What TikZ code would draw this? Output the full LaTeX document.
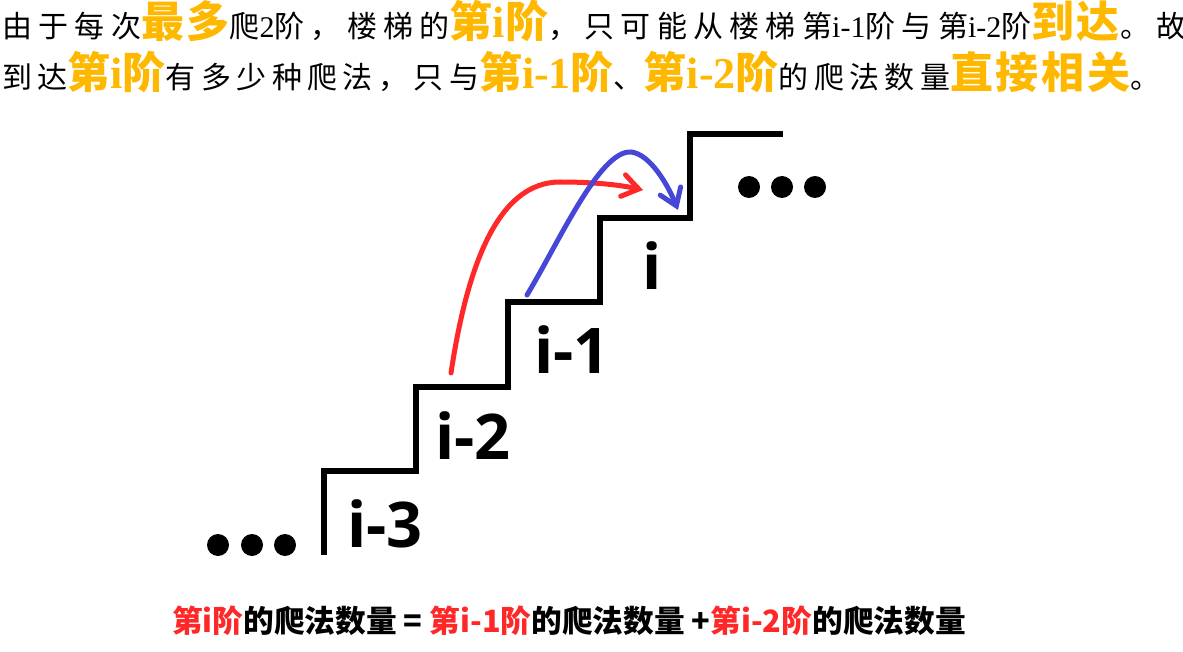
\documentclass[tikz,border=0pt]{standalone}
\usepackage{fontspec}
\setmainfont{Liberation Serif}
\newfontfamily\cjkwide{Noto Sans CJK SC}[LetterSpace=21]
\newfontfamily\cjk{Noto Sans CJK SC}[LetterSpace=18]
\newfontfamily\cjkbold{Noto Sans CJK SC}
\newfontfamily\cjkhl{Noto Sans CJK SC}[LetterSpace=6]
\newfontfamily\labelfont{Open Sans}
\usetikzlibrary{arrows.meta}

\definecolor{hlorange}{RGB}{255,184,0}
\definecolor{hopred}{RGB}{255,40,40}
\definecolor{hopblue}{RGB}{70,70,215}

% orange highlight, Chinese and Latin parts
\newcommand{\hlzh}[1]{{\color{hlorange}\cjkhl\bfseries\fontsize{43}{46}\selectfont #1}}
\newcommand{\hlen}[1]{{\color{hlorange}\rmfamily\bfseries\fontsize{44}{46}\selectfont #1}}
\newcommand{\redzh}[1]{{\color{hopred}#1}}

\begin{document}
\begin{tikzpicture}[
    x=1pt, y=-1pt,
    stair/.style={draw, line width=6pt, line join=miter},
    hop/.style={line width=5pt, line cap=round,
        -{Straight Barb[length=16pt,width=22pt,line cap=round]}},
    steplabel/.style={anchor=base west, inner sep=0pt,
        font=\labelfont\bfseries\fontsize{63}{63}\selectfont},
    topline/.style={anchor=base west, inner sep=0pt,
        font=\fontsize{30}{34}\selectfont},
    formula/.style={anchor=base west, inner sep=0pt,
        font=\cjkbold\bfseries\fontsize{30.7}{34}\selectfont}
]
\useasboundingbox (0,0) rectangle (1183,652);

% explanation text
\node[topline] (line1) at (2,38) {{\cjkwide 由于每次}\hlzh{最多}{\cjkwide 爬}2{\cjkwide 阶，楼梯的}\hlzh{第}\hlen{i}\hlzh{阶}{\cjkwide ，只可能从楼梯第}i-1{\cjkwide 阶与第}i-2{\cjkwide 阶}\hlzh{到达}{\cjkwide 。故}};
\node[topline] (line2) at (2,89) {{\cjk 到达}\hlzh{第}\hlen{i}\hlzh{阶}{\cjk 有多少种爬法，只与}\hlzh{第}\hlen{i-1}\hlzh{阶}{\cjk 、}\hlzh{第}\hlen{i-2}\hlzh{阶}{\cjk 的爬法数量}\hlzh{直接相关}{\cjk 。}};

% stairs
\draw[stair] (324,555) |- (416,471) |- (508,387) |- (600,302) |- (690,218) |- (783,134);
\foreach \x in {218,252,285} \fill (\x,545) circle[radius=11pt];
\foreach \x in {749,782,815} \fill (\x,187) circle[radius=11pt];

\node[steplabel] (s3) at (347,547) {i-3};
\node[steplabel] (s2) at (435,459) {i-2};
\node[steplabel] (s1) at (534,373) {i-1};
\node[steplabel] (s0) at (642,290) {i};

% the two ways up
\coordinate (redstart) at (451,373);
\coordinate (redtop) at (560,182);
\coordinate (redend) at (643,190);
\coordinate (bluestart) at (527,295);
\coordinate (bluetop) at (631,152);
\coordinate (blueend) at (678,210);
\draw[hop, hopred] (redstart) .. controls (468,260) and (500,182) .. (redtop)
    .. controls (600,182) and (625,186) .. (redend);
\draw[hop, hopblue] (bluestart) .. controls (560,240) and (600,150) .. (bluetop)
    .. controls (650,154) and (668,185) .. (blueend);

% recurrence
\node[formula] (rule) at (172,632) {\redzh{第i阶}的爬法数量 = \redzh{第i-1阶}的爬法数量 +\redzh{第i-2阶}的爬法数量};
\end{tikzpicture}
\end{document}
